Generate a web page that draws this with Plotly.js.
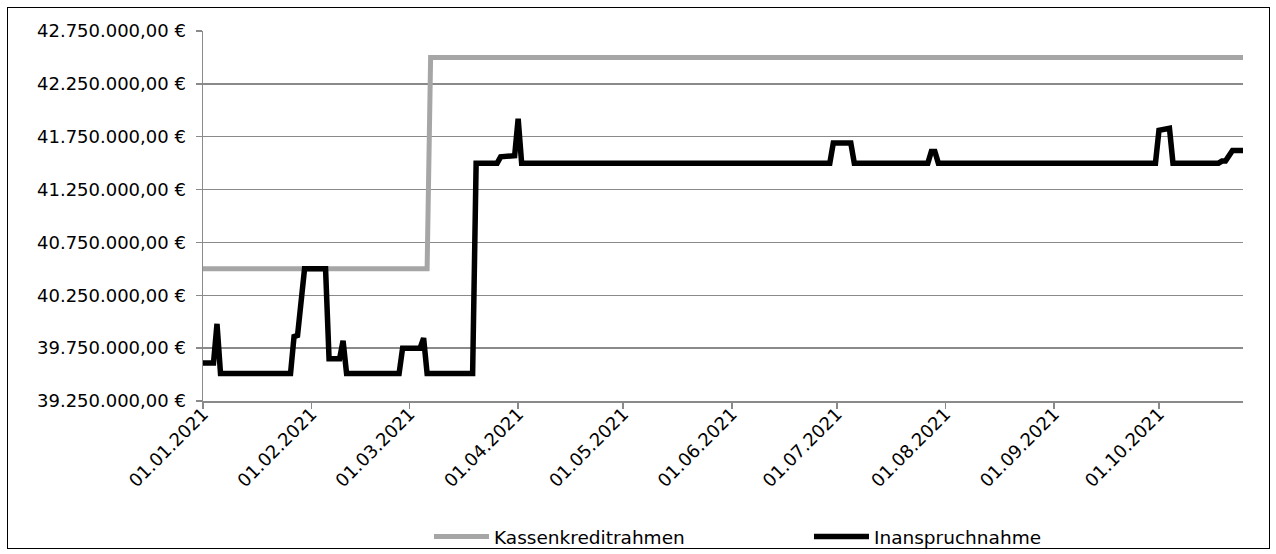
<!DOCTYPE html>
<html>
<head>
<meta charset="utf-8">
<script src="https://cdn.plot.ly/plotly-3.0.1.min.js"></script>
<style>
  html, body { margin: 0; padding: 0; background: #fff; }
  #wrap { position: relative; width: 1276px; height: 554px; }
  #chart { position: absolute; left: 0; top: 0; width: 1276px; height: 554px; }
  #frame { position: absolute; left: 7px; top: 7px; width: 1261px; height: 540px; border: 1px solid #000; pointer-events: none; }
</style>
</head>
<body>
<div id="wrap">
  <div id="chart"></div>
  <div id="frame"></div>
</div>
<script>
// ---- data ----
const seriesNames = ['Kassenkreditrahmen', 'Inanspruchnahme'];

const kreditDates = ['2021-01-01', '2021-03-06', '2021-03-07', '2021-10-25'];
const kreditValues = [40500000, 40500000, 42500000, 42500000];

const inanDates = [
  '2021-01-01', '2021-01-04', '2021-01-05', '2021-01-06',
  '2021-01-26', '2021-01-27', '2021-01-28', '2021-01-30',
  '2021-02-05', '2021-02-06', '2021-02-09', '2021-02-10', '2021-02-11',
  '2021-02-26', '2021-02-27', '2021-03-04', '2021-03-05', '2021-03-06',
  '2021-03-19', '2021-03-20', '2021-03-26', '2021-03-27', '2021-03-31',
  '2021-04-01', '2021-04-02',
  '2021-06-29', '2021-06-30', '2021-07-05', '2021-07-06',
  '2021-07-27', '2021-07-28', '2021-07-29', '2021-07-30',
  '2021-09-30', '2021-10-01', '2021-10-04', '2021-10-05',
  '2021-10-18', '2021-10-19', '2021-10-20', '2021-10-22', '2021-10-25'
];
const inanValues = [
  39610000, 39610000, 39980000, 39510000,
  39510000, 39860000, 39870000, 40500000,
  40500000, 39650000, 39650000, 39820000, 39510000,
  39510000, 39750000, 39750000, 39845000, 39510000,
  39510000, 41500000, 41500000, 41560000, 41570000,
  41920000, 41500000,
  41500000, 41690000, 41690000, 41500000,
  41500000, 41610000, 41610000, 41500000,
  41500000, 41810000, 41830000, 41500000,
  41500000, 41520000, 41520000, 41620000, 41620000
];

const xTickVals = ['2021-01-01', '2021-02-01', '2021-03-01', '2021-04-01', '2021-05-01',
  '2021-06-01', '2021-07-01', '2021-08-01', '2021-09-01', '2021-10-01'];
const xTickText = ['01.01.2021', '01.02.2021', '01.03.2021', '01.04.2021', '01.05.2021',
  '01.06.2021', '01.07.2021', '01.08.2021', '01.09.2021', '01.10.2021'];
const xRange = ['2021-01-01', '2021-10-25'];
const yRange = [39250000, 42750000];
const yStep = 500000;

// ---- chart ----
const FONT = '"DejaVu Sans", "Liberation Sans", Arial, sans-serif';
const gridColor = '#8a8a8a';

const traces = [
  {
    x: kreditDates, y: kreditValues, name: seriesNames[0],
    type: 'scatter', mode: 'lines',
    line: { color: '#a6a6a6', width: 5 }
  },
  {
    x: inanDates, y: inanValues, name: seriesNames[1],
    type: 'scatter', mode: 'lines',
    line: { color: '#000000', width: 5.5 }
  }
];

const layout = {
  width: 1276, height: 554,
  margin: { l: 203, r: 33, t: 31, b: 153, autoexpand: false },
  paper_bgcolor: 'rgba(0,0,0,0)', plot_bgcolor: '#fff',
  separators: ',.',
  font: { family: FONT, size: 18, color: '#000' },
  showlegend: true,
  legend: {
    orientation: 'h', x: 0.2173, xanchor: 'left', y: -0.3676, yanchor: 'middle',
    entrywidth: 310, entrywidthmode: 'pixels', itemwidth: 55,
    font: { family: FONT, size: 18.5, color: '#000' },
    bgcolor: 'rgba(0,0,0,0)', itemclick: false
  },
  xaxis: {
    type: 'date', range: xRange, automargin: false,
    tickmode: 'array', tickvals: xTickVals, ticktext: xTickText,
    tickangle: -45, ticks: 'outside', ticklen: 6, tickcolor: gridColor, tickwidth: 1.5,
    ticklabelstandoff: -12,
    showgrid: false, showline: true, linecolor: gridColor, linewidth: 1.5,
    zeroline: false, tickfont: { family: FONT, size: 18, color: '#000' }
  },
  yaxis: {
    range: yRange, tick0: yRange[0], dtick: yStep, tickmode: 'linear', automargin: false,
    tickformat: ',.2f', ticksuffix: ' €',
    ticks: 'outside', ticklen: 6, tickcolor: gridColor, tickwidth: 1.5, ticklabelstandoff: 6,
    showgrid: true, gridcolor: gridColor, gridwidth: 1.5,
    showline: true, linecolor: gridColor, linewidth: 1.5,
    zeroline: false, tickfont: { family: FONT, size: 18, color: '#000' }
  }
};

Plotly.newPlot('chart', traces, layout, { displayModeBar: false, staticPlot: true });
</script>
</body>
</html>
